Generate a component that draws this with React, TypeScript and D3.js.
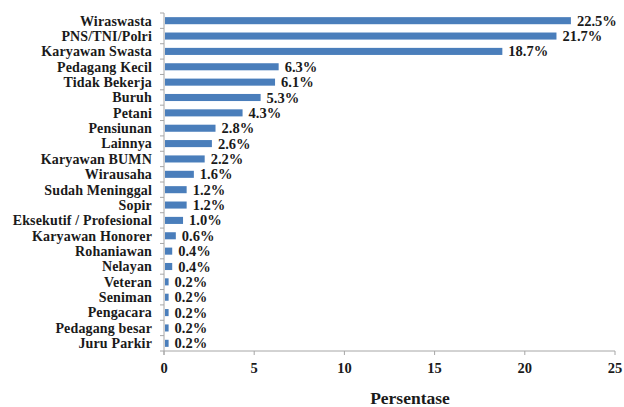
import React from "react";
import * as d3 from "d3";

const categories = [
  "Wiraswasta",
  "PNS/TNI/Polri",
  "Karyawan Swasta",
  "Pedagang Kecil",
  "Tidak Bekerja",
  "Buruh",
  "Petani",
  "Pensiunan",
  "Lainnya",
  "Karyawan BUMN",
  "Wirausaha",
  "Sudah Meninggal",
  "Sopir",
  "Eksekutif / Profesional",
  "Karyawan Honorer",
  "Rohaniawan",
  "Nelayan",
  "Veteran",
  "Seniman",
  "Pengacara",
  "Pedagang besar",
  "Juru Parkir",
];
const values = [22.5, 21.7, 18.7, 6.3, 6.1, 5.3, 4.3, 2.8, 2.6, 2.2, 1.6, 1.2, 1.2, 1.0, 0.6, 0.4, 0.4, 0.2, 0.2, 0.2, 0.2, 0.2];
const xTicks = [0, 5, 10, 15, 20, 25];
const xTitle = "Persentase";

const W = 624;
const H = 407;
const left = 164;
const right = 615;
const top = 13;
const bottom = 351;
const font = "Times New Roman, Liberation Serif, DejaVu Serif, serif";
const barColor = "#4a7ebb";
const axisColor = "#a6a6a6";
const textColor = "#1a1a1a";

export default function App() {
  const x = d3.scaleLinear().domain([0, 25]).range([left, right]);
  const y = d3.scaleBand<string>().domain(categories).range([top, bottom]).paddingInner(0.54).paddingOuter(0.27);
  const step = y.step();
  return (
    <svg width={W} height={H} style={{ position: "absolute", left: 0, top: 0, background: "#fff", fontFamily: font }}>
      {categories.map((c, i) => (
        <g key={c}>
          <rect x={x(0) + 1} y={y(c)!} width={x(values[i]) - x(0)} height={y.bandwidth()} fill={barColor} />
          <text
            x={152}
            y={y(c)! + y.bandwidth() / 2}
            dy="0.35em"
            textAnchor="end"
            style={{ fontFamily: font }}
            fontWeight="bold"
            fontSize={14}
            letterSpacing={0.15}
            fill={textColor}
          >
            {c}
          </text>
          <text
            x={x(values[i]) + 7}
            y={y(c)! + y.bandwidth() / 2}
            dy="0.35em"
            style={{ fontFamily: font }}
            fontWeight="bold"
            fontSize={14.5}
            fill={textColor}
          >
            {values[i].toFixed(1)}%
          </text>
        </g>
      ))}
      <line x1={left} x2={left} y1={top} y2={bottom + 4} stroke={axisColor} strokeWidth={1} />
      {d3.range(categories.length + 1).map((i) => (
        <line key={i} x1={left - 4} x2={left} y1={top + i * step} y2={top + i * step} stroke={axisColor} />
      ))}
      <line x1={left} x2={right} y1={bottom} y2={bottom} stroke={axisColor} />
      {xTicks.map((t) => (
        <g key={t}>
          <line x1={x(t)} x2={x(t)} y1={bottom} y2={bottom + 4} stroke={axisColor} />
          <text x={x(t)} y={373} textAnchor="middle" style={{ fontFamily: font }} fontWeight="bold" fontSize={14.5} fill={textColor}>
            {t}
          </text>
        </g>
      ))}
      <text x={410} y={404} textAnchor="middle" style={{ fontFamily: font }} fontWeight="bold" fontSize={17.5} fill={textColor}>
        {xTitle}
      </text>
    </svg>
  );
}
